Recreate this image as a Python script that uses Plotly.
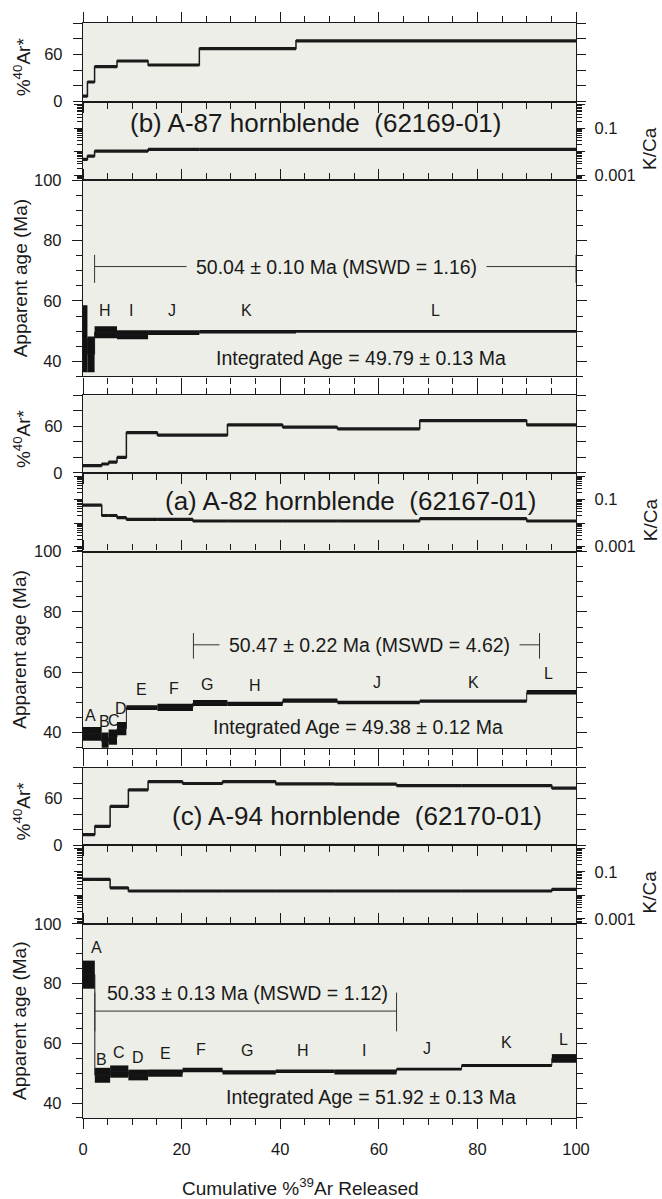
import plotly.graph_objects as go

# ---------------- DATA ----------------
# Sample (b) A-87 hornblende
b_steps = [0, 0.9, 2.35, 6.9, 13.2, 23.6, 43.2, 100]
b_age = [47.5, 42.3, 49.6, 48.8, 49.5, 49.8, 49.9]
b_err = [11.1, 5.9, 2.0, 1.5, 0.8, 0.55, 0.45]
b_ar40 = [7, 25, 44.4, 51.7, 46.6, 67.5, 77.3]
b_kca = [0.0047, 0.0065, 0.0106, 0.0106, 0.0126, 0.0126, 0.0126]
b_lab = ["H", "I", "J", "K", "L"]
b_lab_x = [4.4, 9.7, 18.0, 33.2, 71.5]
b_lab_y = [57, 57, 57, 57, 57]
b_plateau = [2.35, 100, 71.4, 75.3, 66.0]  # start, end, age, tick top, tick bottom
b_plateau_text = "50.04 ± 0.10 Ma (MSWD = 1.16)"
b_integrated = "Integrated Age = 49.79 ± 0.13 Ma"
b_title = "(b) A-87 hornblende\u00a0 (62169-01)"

# Sample (a) A-82 hornblende
a_steps = [0, 3.8, 5.2, 6.9, 8.8, 15.1, 22.3, 29.3, 40.5, 51.6, 68.3, 90, 100]
a_age = [39.6, 37.0, 38.5, 41.3, 48.3, 48.4, 49.8, 49.5, 50.6, 50.0, 50.45, 53.35]
a_err = [2.3, 3.0, 2.5, 2.2, 0.8, 1.2, 1.0, 0.7, 0.7, 0.6, 0.55, 0.75]
a_ar40 = [9.4, 11.5, 14, 20, 52, 48.7, 48.7, 62, 59, 56.8, 67.5, 62]
a_kca = [0.058, 0.021, 0.021, 0.0169, 0.0143, 0.0143, 0.0122, 0.0122, 0.0122, 0.0122, 0.0153, 0.0122]
a_lab = ["A", "B", "C", "D", "E", "F", "G", "H", "J", "K", "L"]
a_lab_x = [1.5, 4.3, 6.2, 7.7, 11.9, 18.5, 25.2, 34.9, 59.7, 79.3, 94.5]
a_lab_y = [45.8, 43.7, 44.1, 48.0, 54.3, 54.7, 55.8, 55.7, 56.7, 56.7, 59.7]
a_plateau = [22.4, 92.6, 69.1, 73.0, 64.5]
a_plateau_text = "50.47 ± 0.22 Ma (MSWD = 4.62)"
a_integrated = "Integrated Age = 49.38 ± 0.12 Ma"
a_title = "(a) A-82 hornblende\u00a0 (62167-01)"

# Sample (c) A-94 hornblende
c_steps = [0, 2.4, 5.5, 9.2, 13.2, 20.2, 28.3, 39.1, 51.0, 63.6, 76.8, 95.1, 100]
c_age = [83.0, 49.3, 50.55, 49.4, 50.0, 51.05, 50.3, 50.65, 50.4, 51.35, 52.6, 54.95]
c_err = [4.7, 2.5, 2.05, 1.8, 1.2, 0.75, 0.7, 0.55, 0.8, 0.45, 0.5, 1.45]
c_ar40 = [13.7, 24.4, 50, 71.4, 82, 79.5, 82, 79, 78.6, 76.9, 76.9, 73.5]
c_kca = [0.048, 0.048, 0.021, 0.0153, 0.0153, 0.0153, 0.0153, 0.0153, 0.0153, 0.0153, 0.0153, 0.018]
c_lab = ["A", "B", "C", "D", "E", "F", "G", "H", "I", "J", "K", "L"]
c_lab_x = [2.8, 3.8, 7.2, 11.1, 16.7, 24.0, 33.2, 44.7, 57.0, 69.7, 86.0, 97.4]
c_lab_y = [92.1, 54.7, 56.8, 55.4, 56.6, 57.9, 57.7, 57.7, 57.7, 58.4, 60.4, 61.2]
c_plateau = [2.4, 63.6, 70.8, 77.0, 64.0]
c_plateau_text = "50.33 ± 0.13 Ma (MSWD = 1.12)"
c_integrated = "Integrated Age = 51.92 ± 0.13 Ma"
c_title = "(c) A-94 hornblende\u00a0 (62170-01)"

x_ticks = [0, 20, 40, 60, 80, 100]

# ---------------- LAYOUT CONSTANTS ----------------
W, H = 662, 1199
ML, MR, MT, MB = 83, 86, 18, 81
PW, PH = W - ML - MR, H - MT - MB
BG = "#edeee7"
INK = "#1a1a1a"
FONT = "Liberation Sans, Arial, sans-serif"


def py(px):
    return (H - MB - px) / PH


def pxx(px):
    return (px - ML) / PW


groups = [
    dict(key="b", steps=b_steps, age=b_age, err=b_err, ar=b_ar40, kca=b_kca,
         lab=b_lab, lab_x=b_lab_x, lab_y=b_lab_y, plat=b_plateau, plat_text=b_plateau_text,
         integ=b_integrated, title=b_title,
         px=dict(ar=(18, 97), kca=(97, 176), age=(176, 373)),
         title_pos=(47.1, 118, "kca"), plat_pos=(51.4, 71.4, True), integ_pos=(56.4, 41.2)),
    dict(key="a", steps=a_steps, age=a_age, err=a_err, ar=a_ar40, kca=a_kca,
         lab=a_lab, lab_x=a_lab_x, lab_y=a_lab_y, plat=a_plateau, plat_text=a_plateau_text,
         integ=a_integrated, title=a_title,
         px=dict(ar=(392, 470), kca=(470, 549), age=(549, 746)),
         title_pos=(54.2, 498, "kca"), plat_pos=(58.2, 69.1, True), integ_pos=(55.8, 41.7)),
    dict(key="c", steps=c_steps, age=c_age, err=c_err, ar=c_ar40, kca=c_kca,
         lab=c_lab, lab_x=c_lab_x, lab_y=c_lab_y, plat=c_plateau, plat_text=c_plateau_text,
         integ=c_integrated, title=c_title,
         px=dict(ar=(766, 844), kca=(844, 923), age=(923, 1118)),
         title_pos=(55.5, 815, "ar"), plat_pos=(33.4, 76.7, False), integ_pos=(58.5, 42.1)),
]

fig = go.Figure()
layout = dict(
    width=W, height=H, margin=dict(l=ML, r=MR, t=MT, b=MB, pad=0),
    paper_bgcolor="white", plot_bgcolor=BG, showlegend=False,
    font=dict(family=FONT, size=16, color=INK),
    barmode="overlay",
)
annotations = []

AXLINE = dict(showline=True, linecolor=INK, linewidth=1.4, showgrid=False, zeroline=False)


def step_thick(steps, vals):
    xs, ys = [], []
    for i, v in enumerate(vals):
        xs += [steps[i], steps[i + 1], None]
        ys += [v, v, None]
    return xs, ys


log_minor = []
for dec in [0.0001, 0.001, 0.01, 0.1, 1]:
    for m in range(2, 10):
        log_minor.append(m * dec)

n = 0
for gi, g in enumerate(groups):
    for kind in ["ar", "kca", "age"]:
        n += 1
        xa = "x" if n == 1 else f"x{n}"
        ya = "y" if n == 1 else f"y{n}"
        xkey = "xaxis" if n == 1 else f"xaxis{n}"
        ykey = "yaxis" if n == 1 else f"yaxis{n}"
        top, bot = g["px"][kind]
        dom = [py(bot), py(top)]
        last = (gi == 2 and kind == "age")
        xax = dict(AXLINE, domain=[0, 1], range=[0, 100], anchor=ya, mirror=True,
                   showticklabels=last, tickfont=dict(size=16.5))
        if kind in ("ar", "age"):
            xax.update(mirror="ticks", ticks="outside", ticklen=10, tickwidth=1.3,
                       tickcolor=INK, tickvals=x_ticks,
                       minor=dict(ticks="outside", ticklen=6, tickwidth=1.2, tickcolor=INK,
                                  dtick=5, tick0=0))
            if last:
                xax.update(ticklabelstandoff=6)
        else:
            xax.update(ticks="")
        layout[xkey] = xax
        steps = g["steps"]
        if kind == "ar":
            yax = dict(AXLINE, domain=dom, range=[0, 100], anchor=xa, mirror="ticks",
                       ticks="outside", ticklen=9, tickwidth=1.2, tickcolor=INK,
                       tickvals=[0, 60], tickfont=dict(size=16.5), ticklabelstandoff=7,
                       minor=dict(ticks="outside", ticklen=9, tickwidth=1.2, tickcolor=INK,
                                  dtick=20, tick0=0))
            vals = g["ar"]
            fig.add_trace(go.Scatter(x=steps, y=vals + [vals[-1]], mode="lines",
                                     line=dict(shape="hv", color=INK, width=1.5),
                                     xaxis=xa, yaxis=ya, hoverinfo="skip"))
            sx, sy = step_thick(steps, vals)
            fig.add_trace(go.Scatter(x=sx, y=sy, mode="lines", line=dict(color=INK, width=3.2),
                                     xaxis=xa, yaxis=ya, hoverinfo="skip"))
            annotations.append(dict(text="%<sup>40</sup>Ar*", xref="paper", yref="paper",
                                    x=pxx(22), y=py((top + bot) / 2 + 5), textangle=-90,
                                    showarrow=False, font=dict(size=19),
                                    xanchor="center", yanchor="middle"))
        elif kind == "kca":
            yax = dict(AXLINE, domain=dom, type="log", range=[-3.22, 0.14], anchor=xa,
                       side="right", mirror="ticks", ticks="outside", ticklen=8,
                       tickwidth=1.2, tickcolor=INK,
                       tickvals=[0.001, 0.01, 0.1, 1], ticktext=["0.001", "", "0.1", ""],
                       tickfont=dict(size=16.5), ticklabelstandoff=6,
                       minor=dict(ticks="outside", ticklen=5, tickwidth=1, tickcolor=INK,
                                  tickmode="array", tickvals=log_minor))
            vals = g["kca"]
            fig.add_trace(go.Scatter(x=steps, y=vals + [vals[-1]], mode="lines",
                                     line=dict(shape="hv", color=INK, width=1.5),
                                     xaxis=xa, yaxis=ya, hoverinfo="skip"))
            sx, sy = step_thick(steps, vals)
            fig.add_trace(go.Scatter(x=sx, y=sy, mode="lines", line=dict(color=INK, width=3.2),
                                     xaxis=xa, yaxis=ya, hoverinfo="skip"))
            annotations.append(dict(text="K/Ca", xref="paper", yref="paper",
                                    x=pxx(650), y=py((top + bot) / 2 + 8), textangle=-90,
                                    showarrow=False, font=dict(size=19),
                                    xanchor="center", yanchor="middle"))
        else:
            yax = dict(AXLINE, domain=dom, range=[35, 100], anchor=xa, mirror="ticks",
                       ticks="outside", ticklen=10, tickwidth=1.3, tickcolor=INK,
                       dtick=20, tick0=0, tickfont=dict(size=16.5), ticklabelstandoff=7,
                       minor=dict(ticks="outside", ticklen=6, tickwidth=1.2, tickcolor=INK,
                                  dtick=5, tick0=0))
            ages, errs = g["age"], g["err"]
            mids = [(steps[i] + steps[i + 1]) / 2 for i in range(len(ages))]
            widths = [steps[i + 1] - steps[i] for i in range(len(ages))]
            bases = [a - e for a, e in zip(ages, errs)]
            heights = [2 * e for e in errs]
            # thin connector through step centres
            fig.add_trace(go.Scatter(x=steps, y=ages + [ages[-1]], mode="lines",
                                     line=dict(shape="hv", color=INK, width=1),
                                     xaxis=xa, yaxis=ya, hoverinfo="skip"))
            fig.add_trace(go.Bar(x=mids, y=heights, base=bases, width=widths,
                                 marker=dict(color="#121212", line=dict(width=0)),
                                 xaxis=xa, yaxis=ya, hoverinfo="skip"))
            # plateau bracket
            p0, p1, pa, pt, pb = g["plat"]
            fig.add_trace(go.Scatter(x=[p0, p1, None, p0, p0, None, p1, p1],
                                     y=[pa, pa, None, pt, pb, None, pt, pb], mode="lines",
                                     line=dict(color="#333", width=1),
                                     xaxis=xa, yaxis=ya, hoverinfo="skip"))
            tx, ty, masked = g["plat_pos"]
            ann = dict(text=g["plat_text"], xref=xa, yref=ya, x=tx, y=ty, showarrow=False,
                       font=dict(size=19.5), xanchor="center", yanchor="middle")
            if masked:
                ann.update(bgcolor=BG, borderpad=9)
            annotations.append(ann)
            ix, iy = g["integ_pos"]
            annotations.append(dict(text=g["integ"], xref=xa, yref=ya, x=ix, y=iy,
                                    showarrow=False, font=dict(size=19.5),
                                    xanchor="center", yanchor="middle"))
            for t, lx, ly in zip(g["lab"], g["lab_x"], g["lab_y"]):
                annotations.append(dict(text=t, xref=xa, yref=ya, x=lx, y=ly,
                                        showarrow=False, font=dict(size=16),
                                        xanchor="center", yanchor="middle"))
            annotations.append(dict(text="Apparent age (Ma)", xref="paper", yref="paper",
                                    x=pxx(20), y=py((top + bot) / 2), textangle=-90,
                                    showarrow=False, font=dict(size=19),
                                    xanchor="center", yanchor="middle"))
        layout[ykey] = yax
    # sample title
    tx, tpy, where = g["title_pos"]
    xref = {"ar": "x" if gi == 0 else f"x{gi*3+1}", "kca": f"x{gi*3+2}"}[where]
    annotations.append(dict(text=g["title"], xref=xref, yref="paper", x=tx, y=py(tpy),
                            showarrow=False, font=dict(size=26),
                            xanchor="center", yanchor="middle"))

annotations.append(dict(text="Cumulative %<sup>39</sup>Ar Released", xref="paper", yref="paper",
                        x=pxx(300), y=py(1187), showarrow=False, font=dict(size=19),
                        xanchor="center", yanchor="middle"))

layout["annotations"] = annotations
fig.update_layout(**layout)
fig.write_html("out.html")
